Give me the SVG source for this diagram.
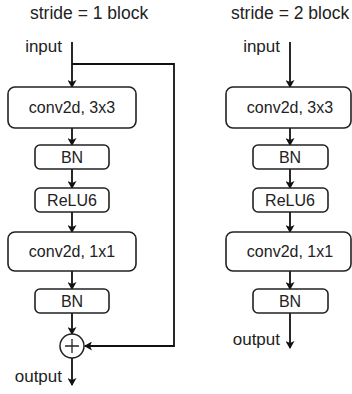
<svg xmlns="http://www.w3.org/2000/svg" width="352" height="394" viewBox="0 0 352 394">
<defs>
<marker id="ah" markerWidth="8" markerHeight="9" refX="7" refY="4.5" orient="auto" markerUnits="userSpaceOnUse">
<path d="M0,0 L8,4.5 L0,9 L2,4.5 Z" fill="#111"/>
</marker>
<style>
.box{fill:#fff;stroke:#222;stroke-width:1.6}
.t{font-family:"Liberation Sans","DejaVu Sans",sans-serif;font-size:16px;fill:#222;text-anchor:middle}
.ti{font-family:"Liberation Sans","DejaVu Sans",sans-serif;font-size:17.5px;fill:#222}
.l{font-family:"Liberation Sans","DejaVu Sans",sans-serif;font-size:17px;fill:#222;text-anchor:end}
.c{fill:none;stroke:#111;stroke-width:1.8}
</style>
</defs>
<rect width="352" height="394" fill="#fff"/>
<text class="ti" x="30" y="19">stride = 1 block</text>
<text class="ti" x="231" y="19">stride = 2 block</text>
<g id="connectors">
<line class="c" x1="72" y1="42" x2="72" y2="87" marker-end="url(#ah)"/>
<polyline class="c" points="72,64 174,64 174,346 85,346" marker-end="url(#ah)"/>
<line class="c" x1="72" y1="128" x2="72" y2="145" marker-end="url(#ah)"/>
<line class="c" x1="72" y1="169" x2="72" y2="188" marker-end="url(#ah)"/>
<line class="c" x1="72" y1="212" x2="72" y2="232" marker-end="url(#ah)"/>
<line class="c" x1="72" y1="271" x2="72" y2="289" marker-end="url(#ah)"/>
<line class="c" x1="72" y1="313" x2="72" y2="334" marker-end="url(#ah)"/>
<line class="c" x1="72" y1="358" x2="72" y2="385" marker-end="url(#ah)"/>
<line class="c" x1="290" y1="42" x2="290" y2="87" marker-end="url(#ah)"/>
<line class="c" x1="290" y1="128" x2="290" y2="145" marker-end="url(#ah)"/>
<line class="c" x1="290" y1="169" x2="290" y2="188" marker-end="url(#ah)"/>
<line class="c" x1="290" y1="212" x2="290" y2="232" marker-end="url(#ah)"/>
<line class="c" x1="290" y1="271" x2="290" y2="289" marker-end="url(#ah)"/>
<line class="c" x1="290" y1="313" x2="290" y2="348" marker-end="url(#ah)"/>
</g>
<g id="input1"><text class="l" x="62" y="52">input</text></g>
<g id="conv3x3_1"><rect class="box" x="8" y="87" width="128" height="41" rx="7"/><text class="t" x="72" y="113">conv2d, 3x3</text></g>
<g id="bn1_1"><rect class="box" x="35" y="145" width="74" height="24" rx="5"/><text class="t" x="72" y="163">BN</text></g>
<g id="relu_1"><rect class="box" x="35" y="188" width="74" height="24" rx="5"/><text class="t" x="72" y="206">ReLU6</text></g>
<g id="conv1x1_1"><rect class="box" x="8" y="232" width="128" height="39" rx="7"/><text class="t" x="72" y="257">conv2d, 1x1</text></g>
<g id="bn2_1"><rect class="box" x="35" y="289" width="74" height="24" rx="5"/><text class="t" x="72" y="307">BN</text></g>
<g id="add"><circle cx="72" cy="346" r="12" fill="#fff" stroke="#222" stroke-width="1.5"/><path d="M65,346 H79 M72,339 V353" stroke="#222" stroke-width="1.3"/></g>
<g id="output1"><text class="l" x="62" y="382">output</text></g>
<g id="input2"><text class="l" x="280" y="52">input</text></g>
<g id="conv3x3_2"><rect class="box" x="226" y="87" width="125" height="41" rx="7"/><text class="t" x="290" y="113">conv2d, 3x3</text></g>
<g id="bn1_2"><rect class="box" x="253" y="145" width="75" height="24" rx="5"/><text class="t" x="290" y="163">BN</text></g>
<g id="relu_2"><rect class="box" x="253" y="188" width="75" height="24" rx="5"/><text class="t" x="290" y="206">ReLU6</text></g>
<g id="conv1x1_2"><rect class="box" x="226" y="232" width="125" height="39" rx="7"/><text class="t" x="290" y="257">conv2d, 1x1</text></g>
<g id="bn2_2"><rect class="box" x="253" y="289" width="75" height="24" rx="5"/><text class="t" x="290" y="307">BN</text></g>
<g id="output2"><text class="l" x="280" y="345">output</text></g>
</svg>
